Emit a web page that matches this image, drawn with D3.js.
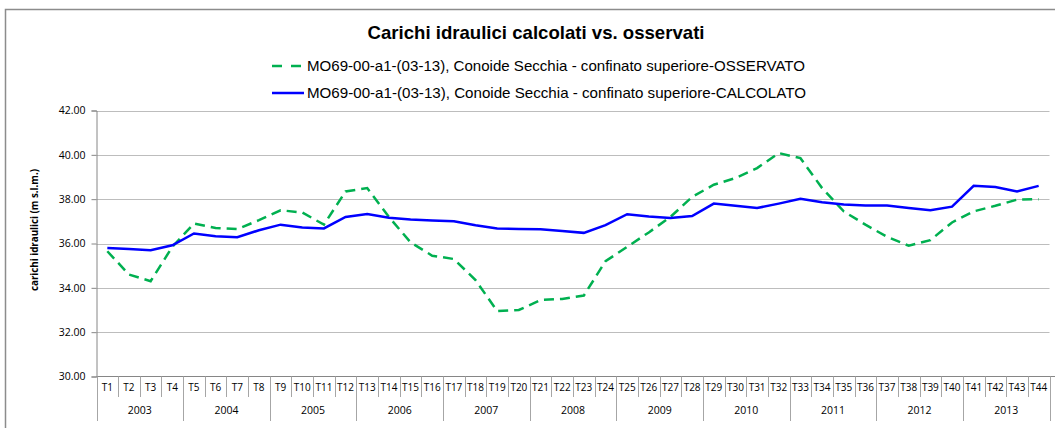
<!DOCTYPE html>
<html>
<head>
<meta charset="utf-8">
<script src="https://cdn.jsdelivr.net/npm/d3@7"></script>
<style>
  body { margin: 0; background: #fff; }
  svg text { font-family: "Liberation Sans Narrow", "Liberation Sans", Arial, sans-serif; fill: #000; }
</style>
</head>
<body>
<script>
	var categories = [];
	for (var i = 1; i <= 44; i++) categories.push("T" + i);

	var years = ["2003","2004","2005","2006","2007","2008","2009","2010","2011","2012","2013"];

	var osservato = [35.65,34.6,34.3,35.85,36.9,36.7,36.65,37.05,37.5,37.4,36.85,38.35,
		38.5,37.2,36.05,35.45,35.3,34.35,32.95,33.0,33.45,33.5,33.65,35.2,
		35.85,36.5,37.2,38.1,38.65,38.95,39.4,40.08,39.85,38.5,37.45,36.85,
		36.3,35.9,36.15,36.95,37.45,37.7,37.98,38.0];

	var calcolato = [35.8,35.75,35.7,35.92,36.45,36.33,36.28,36.6,36.85,36.72,36.68,37.2,
		37.33,37.16,37.08,37.04,37.0,36.82,36.68,36.65,36.64,36.56,36.48,36.83,
		37.32,37.22,37.15,37.24,37.8,37.7,37.6,37.8,38.02,37.86,37.76,37.71,
		37.71,37.6,37.5,37.66,38.6,38.55,38.35,38.6];

	var yTicks = [30,32,34,36,38,40,42];

	var seriesNames = ["MO69-00-a1-(03-13), Conoide Secchia - confinato superiore-OSSERVATO",
		"MO69-00-a1-(03-13), Conoide Secchia - confinato superiore-CALCOLATO"];

	var width = 1055, height = 428;
	var pLeft = 96.5, pRight = 1049.5, pTop = 110.5, pBottom = 376.5;

	var svg = d3.select("body").append("svg")
		.attr("width", width).attr("height", height);

	// chart border (only top and left visible)
	svg.append("path")
		.attr("d", "M5.5," + height + "V9.5H" + width)
		.attr("fill", "none").attr("stroke", "#8c8c8c").attr("stroke-width", 1.5);

	var x = d3.scaleBand().domain(categories).range([pLeft, pRight]);
	var y = d3.scaleLinear().domain([30, 42]).range([pBottom, pTop]);

	// gridlines
	svg.append("g").selectAll("line").data(yTicks.filter(d => d > 30))
		.join("line")
		.attr("x1", pLeft).attr("x2", pRight)
		.attr("y1", d => Math.round(y(d)) + 0.5).attr("y2", d => Math.round(y(d)) + 0.5)
		.attr("stroke", "#bdbdbd").attr("stroke-width", 1.2);

	// y axis
	var yAxis = svg.append("g")
		.attr("transform", "translate(" + pLeft + ",0)")
		.call(d3.axisLeft(y).tickValues(yTicks).tickFormat(d3.format(".2f")).tickSize(5).tickPadding(6));
	yAxis.select(".domain").attr("stroke", "#868686");
	yAxis.selectAll(".tick line").attr("stroke", "#868686");
	yAxis.selectAll("text").style("font-size", "10.5px").style("font-family", "'Open Sans', sans-serif").attr("fill", "#000");

	// x axis table
	var xg = svg.append("g");
	xg.append("line").attr("x1", pLeft).attr("x2", pRight + 6)
		.attr("y1", pBottom).attr("y2", pBottom).attr("stroke", "#868686");
	xg.selectAll("line.cat").data(categories.concat(["end"]))
		.join("line").attr("class", "cat")
		.attr("x1", (d, i) => Math.round(pLeft + i * x.bandwidth()) + 0.5)
		.attr("x2", (d, i) => Math.round(pLeft + i * x.bandwidth()) + 0.5)
		.attr("y1", pBottom)
		.attr("y2", (d, i) => i % 4 == 0 ? 421 : 397)
		.attr("stroke", "#a6a6a6");
	xg.selectAll("text.cat").data(categories)
		.join("text").attr("class", "cat")
		.attr("x", d => x(d) + x.bandwidth() / 2)
		.attr("y", 391)
		.attr("text-anchor", "middle")
		.style("font-family", "'Open Sans', sans-serif")
		.style("font-size", "10px")
		.text(d => d);
	xg.selectAll("text.year").data(years)
		.join("text").attr("class", "year")
		.attr("x", (d, i) => pLeft + (i * 4 + 2) * x.bandwidth())
		.attr("y", 414)
		.attr("text-anchor", "middle")
		.style("font-family", "'Open Sans', sans-serif")
		.style("font-size", "10.5px")
		.text(d => d);

	// y label
	svg.append("text")
		.attr("transform", "translate(38,230) rotate(-90)")
		.attr("text-anchor", "middle")
		.style("font-size", "10px").style("font-weight", "bold")
		.style("font-family", "'Open Sans', sans-serif")
		.attr("textLength", 122).attr("lengthAdjust", "spacingAndGlyphs")
		.text("carichi idraulici  (m s.l.m.)");

	// lines
	var line = d3.line()
		.x((d, i) => x(categories[i]) + x.bandwidth() / 2)
		.y(d => y(d));

	svg.append("path").datum(osservato)
		.attr("d", line).attr("fill", "none")
		.attr("stroke", "#00b050").attr("stroke-width", 2.5)
		.attr("stroke-dasharray", "10,6");

	svg.append("path").datum(calcolato)
		.attr("d", line).attr("fill", "none")
		.attr("stroke", "#0000ff").attr("stroke-width", 2.5);

	// title
	svg.append("text")
		.attr("x", 536).attr("y", 39)
		.attr("text-anchor", "middle")
		.style("font-size", "19px").style("font-weight", "bold")
		.attr("textLength", 337).attr("lengthAdjust", "spacingAndGlyphs")
		.text("Carichi idraulici calcolati vs. osservati");

	// legend
	var legend = svg.append("g");
	var lg = [{name: seriesNames[0], color: "#00b050", dash: "10,9", y: 66},
		{name: seriesNames[1], color: "#0000ff", dash: null, y: 93}];
	legend.selectAll("line").data(lg).join("line")
		.attr("x1", 272).attr("x2", 304)
		.attr("y1", d => d.y).attr("y2", d => d.y)
		.attr("stroke", d => d.color).attr("stroke-width", 2.5)
		.attr("stroke-dasharray", d => d.dash);
	legend.selectAll("text").data(lg).join("text")
		.attr("x", 307).attr("y", d => d.y + 5)
		.style("font-size", "14.5px")
		.attr("textLength", (d, i) => i == 0 ? 498 : 499)
		.attr("lengthAdjust", "spacingAndGlyphs")
		.text(d => d.name);
</script>
</body>
</html>
